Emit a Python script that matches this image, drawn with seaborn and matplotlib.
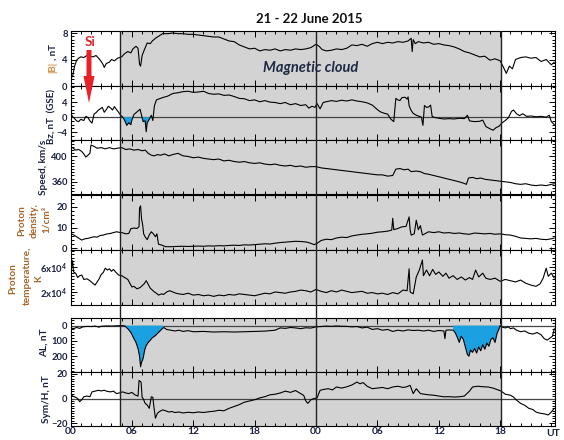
import numpy as np
import pandas as pd
import matplotlib
matplotlib.use("Agg")
import matplotlib.pyplot as plt
import seaborn as sns
from matplotlib.patches import FancyArrow
from matplotlib.ticker import MultipleLocator, FixedLocator

sns.set_style("ticks")
plt.rcParams["font.family"] = ["Lato", "DejaVu Sans"]
plt.rcParams["mathtext.default"] = "regular"

# ---------------- data (hours from 00 UT, 21 June 2015) ----------------
b_time = [0.0, 0.2, 0.4, 0.6, 0.8, 1.0, 1.3, 1.6, 1.9, 2.2,
          2.5, 2.8, 3.0, 3.2, 3.3, 3.5, 3.8, 4.0, 4.3, 4.6,
          5.0, 5.3, 5.6, 5.9, 6.1, 6.4, 6.6, 6.75, 6.85, 7.0,
          7.2, 7.5, 7.8, 8.0, 8.3, 8.6, 9.0, 9.5, 10.0, 10.5,
          11.0, 11.5, 12.0, 12.5, 13.0, 13.5, 14.0, 14.5, 15.0, 15.5,
          16.0, 16.5, 17.0, 17.5, 18.0, 18.5, 19.0, 19.5, 20.0, 20.5,
          21.0, 21.5, 22.0, 22.5, 23.0, 23.5, 24.0, 24.3, 24.6, 25.0,
          25.5, 26.0, 26.5, 27.0, 27.5, 28.0, 28.5, 29.0, 29.5, 30.0,
          30.5, 31.0, 31.5, 32.0, 32.5, 33.0, 33.3, 33.4, 33.5, 33.7,
          34.0, 34.5, 35.0, 35.5, 36.0, 36.5, 37.0, 37.5, 38.0, 38.5,
          39.0, 39.5, 40.0, 40.5, 41.0, 41.5, 42.0, 42.3, 42.6, 42.9,
          43.2, 43.5, 44.0, 44.5, 45.0, 45.5, 46.0, 46.5, 47.0, 47.3]
b_mag = [1.6, 1.4, 3.0, 3.9, 4.2, 4.4, 4.3, 4.6, 4.5, 4.4,
         4.6, 4.1, 3.7, 3.2, 2.8, 3.4, 3.6, 4.0, 3.8, 4.2,
         4.4, 4.9, 5.2, 5.0, 5.6, 6.0, 5.7, 3.3, 3.0, 4.6,
         5.4, 6.5, 6.4, 6.8, 7.2, 7.5, 7.9, 7.9, 8.0, 7.9,
         7.9, 7.8, 7.8, 7.7, 7.6, 7.5, 7.4, 7.4, 7.1, 6.8,
         6.7, 6.2, 5.9, 5.6, 5.7, 5.3, 5.5, 5.4, 5.6, 5.3,
         5.5, 5.4, 5.6, 5.5, 5.6, 5.8, 6.3, 6.0, 5.5, 5.3,
         5.4, 5.6, 5.5, 5.7, 6.2, 6.1, 6.3, 6.0, 6.4, 6.6,
         6.4, 6.6, 6.5, 6.7, 6.6, 6.8, 7.2, 5.2, 7.0, 6.4,
         6.7, 6.5, 6.6, 6.3, 6.4, 6.2, 6.1, 5.9, 5.6, 5.2,
         5.0, 4.7, 4.4, 4.5, 3.9, 4.1, 3.8, 2.9, 1.9, 3.0,
         2.6, 4.0, 4.3, 4.4, 4.2, 4.3, 3.7, 4.0, 3.2, 3.6]

bz_time = [0.0, 0.2, 0.4, 0.6, 0.8, 1.0, 1.3, 1.5, 1.7, 1.9,
           2.1, 2.3, 2.5, 2.7, 2.9, 3.1, 3.3, 3.5, 3.7, 3.9,
           4.1, 4.3, 4.5, 4.7, 4.9, 5.1, 5.3, 5.5, 5.7, 5.9,
           6.0, 6.2, 6.5, 6.8, 6.95, 7.1, 7.3, 7.4, 7.5, 7.7,
           7.9, 8.05, 8.2, 8.4, 8.7, 9.0, 9.5, 10.0, 10.5, 11.0,
           11.5, 12.0, 12.5, 13.0, 13.5, 14.0, 14.5, 15.0, 15.5, 16.0,
           16.5, 17.0, 17.5, 18.0, 18.5, 19.0, 19.5, 20.0, 20.5, 21.0,
           21.5, 22.0, 22.5, 23.0, 23.3, 23.6, 23.9, 24.1, 24.4, 24.7,
           25.0, 25.5, 26.0, 26.5, 27.0, 27.5, 28.0, 28.5, 29.0, 29.5,
           30.0, 30.3, 30.7, 31.0, 31.3, 31.6, 31.7, 31.8, 32.0, 32.2,
           32.4, 32.7, 32.9, 33.0, 33.1, 33.3, 33.5, 33.8, 34.0, 34.3,
           34.45, 34.6, 34.8, 35.0, 35.2, 35.35, 35.6, 36.0, 36.5, 37.0,
           37.5, 38.0, 38.5, 38.8, 39.0, 39.5, 40.0, 40.3, 40.6, 41.0,
           41.3, 41.6, 41.9, 42.2, 42.5, 42.8, 43.1, 43.3, 43.6, 43.9,
           44.2, 44.6, 45.0, 45.5, 46.0, 46.5, 46.8, 47.0, 47.3]
bz_gse = [1.0, 0.2, -0.4, -1.0, -1.2, -0.6, -0.9, 0.2, -0.1, -1.0,
          -1.6, 0.8, 1.2, 1.8, 2.2, 2.6, 1.3, 2.0, 2.9, 2.5,
          1.9, 2.8, 2.0, 1.3, 0.5, 0.0, -0.9, -2.2, -1.5, -2.0,
          -0.8, 0.7, 1.4, 2.1, 0.5, -1.2, -1.0, -3.9, -1.5, -0.6,
          0.5, -0.9, 3.0, 4.6, 4.9, 5.2, 5.6, 6.3, 6.5, 6.8,
          6.9, 6.6, 6.7, 6.9, 6.3, 6.1, 6.2, 5.8, 5.9, 5.5,
          5.0, 4.9, 4.4, 4.6, 4.1, 4.4, 4.0, 3.9, 3.6, 3.9,
          3.3, 3.6, 3.1, 3.3, 2.4, 2.9, 2.6, 3.6, 2.2, 3.9,
          4.1, 4.4, 4.2, 4.5, 4.3, 4.6, 4.3, 4.1, 3.8, 3.2,
          2.0, 1.4, 1.0, 0.8, -0.5, -1.2, 2.0, 5.0, 4.6, 4.4,
          5.2, 5.3, 4.8, 5.4, 3.0, 1.8, 1.0, 0.5, 0.3, 0.0,
          -2.2, 3.1, 2.6, 2.7, 3.2, 0.2, -0.1, -0.3, -0.5, -0.4,
          -0.5, -0.3, -0.4, 0.5, -1.0, -1.2, -1.1, -0.8, -2.5, -3.1,
          -3.5, -2.8, -2.4, -1.5, -0.9, -0.2, 1.5, 1.9, 0.9, 0.4,
          0.9, 0.2, 0.3, 0.1, 0.2, 0.0, 0.5, -1.2, -2.0]

v_time = [0.0, 0.2, 0.5, 0.8, 1.1, 1.3, 1.5, 1.7, 1.9, 2.0,
          2.3, 2.6, 3.0, 3.4, 3.8, 4.2, 4.6, 5.0, 5.4, 5.8,
          6.2, 6.6, 7.0, 7.3, 7.6, 7.9, 8.2, 8.5, 8.8, 9.2,
          9.6, 10.0, 10.5, 11.0, 11.5, 12.0, 12.5, 13.0, 13.5, 14.0,
          14.5, 15.0, 15.5, 16.0, 16.5, 17.0, 17.5, 18.0, 18.5, 19.0,
          19.5, 20.0, 20.5, 21.0, 21.5, 22.0, 22.5, 23.0, 23.5, 24.0,
          24.5, 25.0, 25.5, 26.0, 26.5, 27.0, 27.5, 28.0, 28.5, 29.0,
          29.5, 30.0, 30.5, 31.0, 31.5, 31.8, 32.2, 32.6, 33.0, 33.3,
          33.8, 34.2, 34.6, 35.0, 35.5, 36.0, 36.5, 37.0, 37.5, 38.0,
          38.4, 38.7, 38.9, 39.3, 39.7, 40.1, 40.5, 41.0, 41.5, 42.0,
          42.5, 43.0, 43.5, 44.0, 44.5, 45.0, 45.5, 46.0, 46.5, 47.0,
          47.3]
v_speed = [412, 414, 410, 411, 408, 404, 399, 402, 405, 418,
           416, 413, 414, 412, 414, 412, 413, 414, 411, 412,
           410, 411, 409, 410, 405, 402, 401, 403, 402, 404,
           401, 403, 405, 401, 400, 398, 399, 397, 396, 395,
           396, 393, 394, 392, 391, 392, 390, 389, 390, 388,
           387, 388, 386, 385, 386, 384, 385, 383, 384, 384,
           382, 381, 380, 379, 378, 377, 376, 375, 374, 373,
           372, 371, 371, 369, 370, 380, 381, 379, 380, 376,
           377, 376, 373, 372, 370, 368, 366, 364, 362, 360,
           358, 356, 366, 367, 365, 366, 364, 363, 362, 361,
           360, 359, 357, 356, 357, 355, 354, 355, 354, 356,
           357]

n_time = [0.0, 0.3, 0.6, 0.9, 1.1, 1.4, 1.7, 2.0, 2.3, 2.6,
          2.9, 3.2, 3.5, 3.9, 4.2, 4.5, 4.8, 5.1, 5.4, 5.7,
          5.9, 6.2, 6.5, 6.7, 6.75, 6.85, 6.95, 7.05, 7.15, 7.3,
          7.5, 7.7, 7.9, 8.1, 8.3, 8.45, 8.6, 8.9, 9.3, 9.8,
          10.3, 11.0, 11.5, 12.0, 12.5, 13.0, 13.5, 14.0, 14.5, 15.0,
          15.5, 16.0, 16.5, 17.0, 17.5, 18.0, 18.5, 19.0, 19.5, 20.0,
          20.5, 21.0, 21.5, 22.0, 22.5, 23.0, 23.4, 23.8, 24.1, 24.5,
          25.0, 25.5, 26.0, 26.5, 27.0, 27.5, 28.0, 28.5, 29.0, 29.5,
          30.0, 30.5, 31.0, 31.4, 31.5, 31.6, 32.0, 32.4, 32.8, 33.1,
          33.2, 33.3, 33.6, 33.8, 34.0, 34.2, 34.4, 34.7, 35.0, 35.5,
          36.0, 36.5, 37.0, 37.5, 38.0, 38.5, 39.0, 39.5, 40.0, 40.5,
          41.0, 41.5, 42.0, 42.5, 43.0, 43.5, 44.0, 44.5, 45.0, 45.5,
          46.0, 46.5, 47.0, 47.3]
n_density = [7.2, 6.5, 5.6, 4.6, 4.0, 4.6, 4.8, 5.2, 5.6, 5.4,
             6.2, 6.4, 6.9, 7.2, 7.6, 8.0, 7.7, 7.5, 7.0, 7.2,
             9.5, 9.8, 9.6, 10.5, 19.5, 20.5, 14.0, 11.5, 7.0, 5.5,
             4.2, 6.5, 8.0, 7.0, 5.6, 7.0, 2.0, 1.6, 0.8, 0.8,
             0.9, 1.0, 0.9, 1.0, 1.1, 1.0, 1.2, 1.1, 1.3, 1.2,
             1.4, 1.5, 1.4, 1.7, 1.6, 1.8, 2.0, 2.2, 2.1, 2.5,
             2.8, 3.0, 3.2, 3.4, 3.3, 3.1, 2.6, 1.8, 2.4, 3.8,
             4.4, 4.2, 5.0, 5.4, 5.2, 6.0, 6.4, 6.8, 7.0, 7.3,
             7.8, 8.0, 8.3, 8.8, 14.5, 9.0, 9.6, 10.4, 10.6, 15.2,
             9.0, 6.4, 7.0, 13.6, 9.0, 11.0, 6.4, 7.2, 8.0, 7.6,
             8.0, 7.4, 7.6, 7.2, 7.4, 7.0, 6.8, 7.4, 7.2, 7.0,
             7.2, 6.8, 7.0, 6.6, 6.4, 5.8, 5.0, 4.8, 4.6, 4.8,
             4.4, 4.2, 4.6, 5.0]

t_time = [0.0, 0.1, 0.2, 0.3, 0.5, 0.7, 0.9, 1.1, 1.3, 1.6,
          1.9, 2.1, 2.4, 2.6, 2.8, 3.0, 3.2, 3.4, 3.6, 3.8,
          4.0, 4.2, 4.4, 4.7, 5.0, 5.2, 5.4, 5.6, 5.8, 6.0,
          6.2, 6.5, 6.8, 7.0, 7.2, 7.4, 7.6, 7.8, 8.0, 8.2,
          8.4, 8.6, 8.9, 9.1, 9.4, 9.7, 10.0, 10.3, 10.6, 11.0,
          11.5, 12.0, 12.5, 13.0, 13.5, 14.0, 14.5, 15.0, 15.5, 16.0,
          16.5, 17.0, 17.5, 18.0, 18.5, 19.0, 19.5, 20.0, 20.5, 21.0,
          21.5, 22.0, 22.5, 23.0, 23.5, 24.0, 24.5, 25.0, 25.5, 26.0,
          26.5, 27.0, 27.5, 28.0, 28.5, 29.0, 29.5, 30.0, 30.5, 31.0,
          31.5, 32.0, 32.5, 32.9, 33.1, 33.2, 33.5, 33.8, 34.1, 34.4,
          34.5, 34.8, 35.1, 35.4, 35.7, 36.0, 36.4, 36.7, 37.0, 37.4,
          37.8, 38.2, 38.6, 39.0, 39.3, 39.6, 39.9, 40.3, 40.6, 41.0,
          41.5, 42.0, 42.5, 43.0, 43.5, 44.0, 44.5, 45.0, 45.5, 45.9,
          46.2, 46.5, 46.7, 47.0, 47.3]
temp_1e4K = [7.1, 5.8, 7.0, 5.2, 5.0, 4.3, 4.6, 4.7, 4.0, 4.1,
             3.8, 3.5, 3.1, 3.6, 4.1, 4.8, 5.1, 5.8, 5.5, 5.7,
             5.3, 5.6, 5.2, 4.7, 4.6, 4.4, 4.2, 4.0, 3.4, 2.8,
             2.9, 2.5, 2.7, 3.0, 3.3, 3.8, 3.2, 2.6, 2.3, 2.0,
             1.8, 1.5, 1.7, 1.6, 2.0, 2.2, 2.0, 1.8, 1.7, 1.6,
             1.8, 1.5, 1.6, 1.4, 1.5, 1.3, 1.5, 1.4, 1.6, 1.5,
             1.7, 1.6, 1.5, 1.4, 1.6, 1.8, 1.7, 2.0, 1.9, 1.8,
             2.0, 2.1, 2.3, 2.2, 2.0, 2.4, 2.1, 1.9, 2.2, 2.0,
             2.3, 2.1, 1.9, 2.0, 2.1, 1.8, 1.9, 1.7, 1.8, 1.6,
             1.9, 1.7, 2.3, 2.2, 5.7, 2.0, 1.7, 4.4, 5.5, 7.1,
             4.6, 5.5, 4.6, 5.6, 4.8, 5.2, 4.5, 5.0, 4.2, 4.6,
             4.0, 4.4, 3.9, 4.3, 4.0, 5.5, 4.4, 5.0, 4.2, 4.0,
             4.2, 3.7, 4.0, 3.8, 3.6, 3.9, 3.4, 3.1, 2.9, 3.3,
             4.2, 5.8, 4.5, 5.0, 4.2]

al_time = [0.0, 0.3, 0.6, 0.9, 1.2, 1.6, 2.0, 2.4, 2.8, 3.0,
           3.5, 4.0, 4.5, 5.0, 5.3, 5.6, 5.9, 6.2, 6.4, 6.6,
           6.75, 6.85, 6.95, 7.1, 7.25, 7.4, 7.6, 7.8, 8.0, 8.3,
           8.6, 8.9, 9.1, 9.4, 9.8, 10.2, 10.6, 11.0, 11.5, 12.0,
           13.0, 14.0, 15.0, 16.0, 17.0, 18.0, 19.0, 20.0, 20.5, 21.0,
           21.5, 22.0, 22.5, 23.0, 23.5, 24.0, 24.5, 25.0, 25.5, 26.0,
           26.5, 27.0, 27.5, 28.0, 28.5, 29.0, 29.5, 30.0, 30.5, 31.0,
           31.5, 32.0, 32.5, 33.0, 33.5, 34.0, 34.5, 35.0, 35.5, 36.0,
           36.5, 36.6, 36.7, 37.0, 37.4, 37.6, 37.8, 38.0, 38.2, 38.4,
           38.6, 38.8, 38.95, 39.1, 39.3, 39.5, 39.7, 39.9, 40.1, 40.3,
           40.5, 40.7, 40.9, 41.1, 41.3, 41.5, 41.7, 41.9, 42.0, 42.2,
           42.5, 42.8, 43.0, 43.3, 43.6, 44.0, 44.4, 44.8, 45.2, 45.6,
           46.0, 46.3, 46.6, 46.9, 47.1, 47.3]
# |AL| in nT (axis drawn downward)
al_index = [15, 20, 12, 18, 8, 5, 6, 3, 10, 4,
            2, 3, 1, 0, 2, 20, 45, 85, 110, 150,
            200, 270, 240, 215, 160, 130, 110, 95, 80, 65,
            45, 25, 12, 25, 30, 35, 30, 38, 33, 40,
            38, 42, 40, 42, 40, 38, 36, 30, 15, 18,
            12, 15, 20, 14, 16, 8, 6, 3, 5, 2,
            4, 5, 8, 6, 15, 10, 25, 20, 30, 25,
            38, 30, 35, 28, 32, 30, 35, 30, 38, 32,
            35, 85, 30, 28, 30, 45, 75, 110, 70, 90,
            140, 190, 200, 160, 175, 150, 180, 140, 165, 125,
            155, 115, 135, 90, 80, 110, 50, 20, 0, 10,
            15, 8, 20, 15, 30, 40, 35, 50, 55, 45,
            60, 85, 95, 80, 70, 20]

sym_time = [0.0, 0.2, 0.4, 0.7, 0.9, 1.1, 1.3, 1.6, 1.9, 2.1,
            2.4, 2.7, 3.0, 3.3, 3.6, 3.9, 4.2, 4.5, 4.8, 5.1,
            5.4, 5.7, 6.0, 6.3, 6.6, 6.7, 6.9, 7.0, 7.1, 7.3,
            7.5, 7.7, 7.9, 8.05, 8.15, 8.3, 8.5, 8.7, 9.0, 9.3,
            9.6, 9.9, 10.2, 10.6, 11.0, 11.5, 12.0, 12.5, 13.0, 13.5,
            14.0, 14.5, 15.0, 15.5, 16.0, 16.5, 17.0, 17.5, 18.0, 18.5,
            19.0, 19.5, 20.0, 20.5, 21.0, 21.5, 22.0, 22.5, 22.8, 23.0,
            23.2, 23.5, 23.8, 24.1, 24.4, 24.8, 25.2, 25.6, 26.0, 26.5,
            27.0, 27.5, 28.0, 28.3, 28.6, 29.0, 29.5, 30.0, 30.5, 31.0,
            31.5, 32.0, 32.5, 32.8, 33.2, 33.5, 33.8, 34.2, 34.6, 35.0,
            35.5, 36.0, 36.5, 37.0, 37.5, 38.0, 38.5, 39.0, 39.3, 39.8,
            40.3, 40.8, 41.3, 41.8, 42.1, 42.5, 43.0, 43.3, 43.6, 44.0,
            44.4, 44.8, 45.2, 45.5, 45.9, 46.3, 46.7, 47.0, 47.3]
sym_h = [4, 2, 1.4, 0, -2.6, -1, 1.4, 2, 1.5, 5.4,
         6, 6.7, 6.2, 6.7, 5.8, 5.4, 6, 4, 4.6, 5.4,
         4.5, 4, 5, 3, 1.9, 14.7, 13.4, 1, 0, -4,
         -5.3, -8, 1.4, 1, -6.6, -16, -12, -10.6, -9.3, -10,
         -11, -10.6, -11.4, -11, -11.8, -11.2, -11.6, -11, -11.4, -10.8,
         -10.4, -9.6, -10, -8, -6.5, -5, -3, -2, -1, 0.5,
         1.5, 3, 3.5, 4.5, 6, 5, 6.5, 4, 2.5, -2,
         -4, -1, 0, 0.5, 6.7, 7.5, 8, 7, 9.4, 8.5,
         9.5, 11, 13.4, 12, 13, 10, 8, 8.5, 9, 8,
         9.4, 10, 9, 9.4, 10.7, 4, 8, 4, 3.5, 3,
         2.7, 2, 1.4, 1.5, 1.2, 1.4, 2, 6, 9.4, 10,
         9.6, 9.4, 8.5, 7, 6, 3.5, 2.7, 1.2, -1.3, -4,
         -5.5, -8, -9, -11, -12, -12.5, -13.4, -11, -8]

x_tick_hours = [0, 6, 12, 18, 24, 30, 36, 42]
x_tick_labels = ["00", "06", "12", "18", "00", "06", "12", "18"]
cloud_start, cloud_end = 4.85, 42.1
day_boundary = 24.0

# ---------------- styling ----------------
W, H = 564, 440
X_MAX = 47.36
INK = "#1b2140"
BROWN = "#a8652a"
SHADE = "#d3d3d3"
FILL = "#1ba1e2"
RED = "#e8202a"

fig = plt.figure(figsize=(W / 100, H / 100), dpi=100)


def px_axes(top, bottom, left=70.5, right=555.0):
    return fig.add_axes([left / W, 1 - bottom / H, (right - left) / W, (bottom - top) / H])


def style_axes(ax, ylim, majors, minor, labels=None, bottom_labels=False):
    ax.set_xlim(0, X_MAX)
    ax.set_ylim(*ylim)
    ax.xaxis.set_major_locator(FixedLocator(x_tick_hours))
    ax.xaxis.set_minor_locator(MultipleLocator(1))
    ax.yaxis.set_major_locator(FixedLocator(majors))
    ax.yaxis.set_minor_locator(MultipleLocator(minor))
    if labels is not None:
        ax.set_yticklabels(labels)
    if bottom_labels:
        ax.set_xticklabels(x_tick_labels)
    else:
        ax.set_xticklabels([])
    ax.tick_params(which="both", direction="in", top=True, right=True,
                   colors="black", labelcolor=INK, width=0.7)
    ax.tick_params(which="major", length=4.5)
    ax.tick_params(which="minor", length=2.2)
    ax.tick_params(axis="y", labelsize=6.8, pad=2)
    ax.tick_params(axis="x", labelsize=7.4, pad=1)
    for lab in ax.get_yticklabels() + ax.get_xticklabels():
        lab.set_fontweight("bold")
    for sp in ax.spines.values():
        sp.set_color("black")
        sp.set_linewidth(0.8)
    ax.set_xlabel("")
    ax.set_ylabel("")


def draw_series(ax, t, v):
    ax.axvspan(cloud_start, cloud_end, color=SHADE, lw=0, zorder=0)
    df = pd.DataFrame({"t": t, "v": v})
    sns.lineplot(data=df, x="t", y="v", ax=ax, color="black", linewidth=0.8,
                 estimator=None, sort=False, zorder=3)
    return df


panel_rows = [(31.5, 86), (86, 140), (140, 194.5), (194.5, 250),
              (250, 304.5), (318, 372), (372, 426)]
axes = [px_axes(a, b) for a, b in panel_rows]

# |B|
ax = axes[0]
draw_series(ax, b_time, b_mag)
style_axes(ax, (0, 8.23), [0, 4, 8], 0.5)

# Bz (GSE) with southward intervals filled
ax = axes[1]
draw_series(ax, bz_time, bz_gse)
ax.axhline(0, color="#444444", lw=0.9, zorder=2)
tt, vv = np.array(bz_time), np.array(bz_gse)
ax.fill_between(tt, 0, vv, where=(tt >= 5.0) & (tt <= 8.1) & (vv <= 0),
                interpolate=True, color=FILL, lw=0, zorder=2)
style_axes(ax, (-6.1, 8.3), [-4, 0, 4], 1)

# Speed
ax = axes[2]
draw_series(ax, v_time, v_speed)
style_axes(ax, (340, 426), [360, 400], 5)

# Density
ax = axes[3]
draw_series(ax, n_time, n_density)
style_axes(ax, (-0.8, 26), [0, 10, 20], 2)

# Temperature
ax = axes[4]
draw_series(ax, t_time, [x * 1e4 for x in temp_1e4K])
style_axes(ax, (0, 8.7e4), [2e4, 6e4], 0.5e4,
           labels=[r"2x10$^{4}$", r"6x10$^{4}$"])

# AL (magnitude, plotted downward)
ax = axes[5]
draw_series(ax, al_time, al_index)
ax.axhline(0, color="#444444", lw=0.9, zorder=2)
tt, vv = np.array(al_time), np.array(al_index)
sub = ((tt >= 5.0) & (tt <= 9.1)) | ((tt >= 37.4) & (tt <= 42.0))
ax.fill_between(tt, 0, vv, where=sub, interpolate=False, color=FILL, lw=0, zorder=2)
style_axes(ax, (304, -50), [0, 100, 200], 20)

# Sym/H
ax = axes[6]
draw_series(ax, sym_time, sym_h)
ax.axhline(0, color="#444444", lw=0.9, zorder=2)
style_axes(ax, (-22.4, 21.6), [-20, 0, 20], 2, bottom_labels=True)

# vertical markers spanning every panel
ov = px_axes(31.5, 426)
ov.set_xlim(0, X_MAX)
ov.axis("off")
ov.patch.set_alpha(0)
for xv in (cloud_start, day_boundary, cloud_end):
    ov.axvline(xv, color="#222222", lw=1.0)


def ftext(x, y, s, **kw):
    return fig.text(x / W, 1 - y / H, s, **kw)


# axis titles
ftext(53, 73, "|B|", rotation=90, ha="center", va="bottom", fontsize=7,
      fontweight="bold", color="#d08a3c")
ftext(53, 60, ", nT", rotation=90, ha="center", va="bottom", fontsize=7,
      fontweight="bold", color=INK)
ftext(52, 116, "Bz, nT  (GSE)", rotation=90, ha="center", va="center",
      fontsize=7, fontweight="bold", color=INK)
ftext(44, 167, "Speed, km/s", rotation=90, ha="center", va="center",
      fontsize=7.2, fontweight="bold", color=INK)
ftext(22, 221, "Proton", rotation=90, ha="center", va="center",
      fontsize=7.2, fontweight="bold", color=BROWN)
ftext(34, 220, "density,", rotation=90, ha="center", va="center",
      fontsize=7.2, fontweight="bold", color=BROWN)
ftext(46, 219, "1/cm³", rotation=90, ha="center", va="center",
      fontsize=7.2, fontweight="bold", color=BROWN)
ftext(13, 279, "Proton", rotation=90, ha="center", va="center",
      fontsize=7.2, fontweight="bold", color=BROWN)
ftext(27, 276, "temperature,", rotation=90, ha="center", va="center",
      fontsize=7.2, fontweight="bold", color=BROWN)
ftext(39, 279, "K", rotation=90, ha="center", va="center",
      fontsize=7.2, fontweight="bold", color=BROWN)
ftext(44, 343, "AL, nT", rotation=90, ha="center", va="center",
      fontsize=7.2, fontweight="bold", color=INK)
ftext(46, 399, "Sym/H, nT", rotation=90, ha="center", va="center",
      fontsize=7.2, fontweight="bold", color=INK)

# title, annotations
ftext(309, 19, "21 - 22 June 2015", ha="center", va="center",
      fontsize=9.5, fontweight="bold", color="#111111")
ftext(311, 68, "Magnetic cloud", ha="center", va="center", fontsize=10.5,
      fontweight="bold", fontstyle="italic", color="#1f2a44")
ftext(553, 433, "UT", ha="center", va="center", fontsize=7.4,
      fontweight="bold", color=INK)
ftext(90, 42, "Si", ha="center", va="center", fontsize=9.5,
      fontweight="bold", color=RED)
arrow = FancyArrow(0.89, (H - 50) / 100, 0, -0.53, width=0.05, head_width=0.11,
                   head_length=0.27, length_includes_head=True, color=RED,
                   lw=0, transform=fig.dpi_scale_trans)
fig.add_artist(arrow)

fig.savefig("out.png", dpi=100)
